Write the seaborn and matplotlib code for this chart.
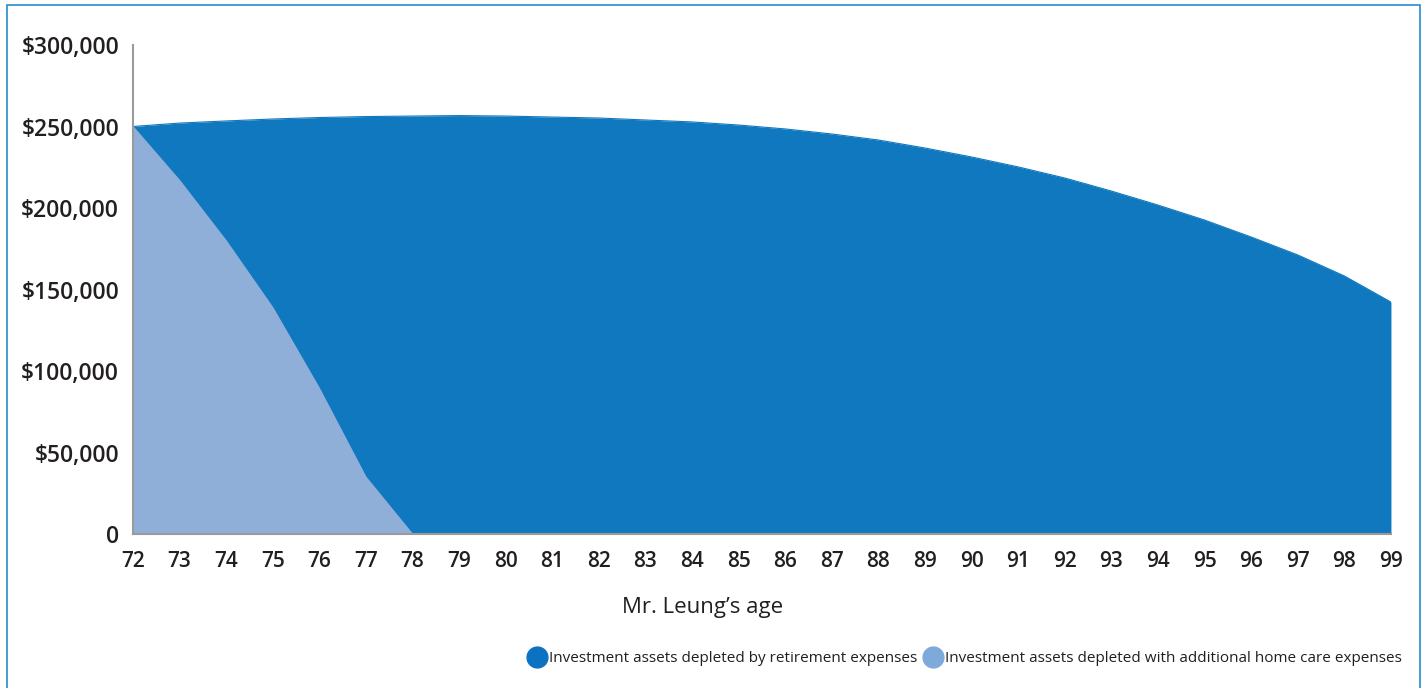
import numpy as np
import pandas as pd
import matplotlib.pyplot as plt
import matplotlib.patches as patches
from matplotlib.lines import Line2D
from matplotlib.ticker import FuncFormatter
import seaborn as sns

# ages on the x axis
ages = list(range(72, 100))

# investment assets with retirement expenses only
retirement = [250000, 252100, 253400, 254600, 255500, 256100, 256400, 256700,
              256400, 255800, 255200, 254000, 252800, 250900, 248500, 245400,
              241700, 236800, 231300, 225200, 218400, 210400, 201800, 192600,
              182200, 171200, 158300, 142300]

# investment assets with additional home care expenses
home_care = [250000, 217000, 180000, 139000, 89500, 35000, 0, 0,
             0, 0, 0, 0, 0, 0, 0, 0, 0, 0, 0, 0, 0, 0, 0, 0, 0, 0, 0, 0]

y_ticks = [0, 50000, 100000, 150000, 200000, 250000, 300000]

legend_labels = ['Investment assets depleted by retirement expenses',
                 'Investment assets depleted with additional home care expenses']

dark_blue = '#1078be'
light_blue = '#8fafd9'
legend_dark = '#0b72c2'
legend_light = '#7eaadb'

df = pd.DataFrame({'age': ages, 'retirement': retirement, 'home_care': home_care})

sns.set_theme(style='white')
plt.rcParams['font.family'] = ['Open Sans', 'DejaVu Sans']

fig = plt.figure(figsize=(14.25, 6.88), dpi=100)
ax = fig.add_axes([0.0933, 0.2238, 0.8828, 0.7108])

sns.lineplot(data=df, x='age', y='retirement', color=dark_blue, linewidth=0.8, ax=ax)
ax.fill_between(df['age'], 0, df['retirement'], color=dark_blue, linewidth=0)
sns.lineplot(data=df, x='age', y='home_care', color=light_blue, linewidth=0.8, ax=ax)
ax.fill_between(df['age'], 0, df['home_care'], color=light_blue, linewidth=0)

ax.set_xlim(72, 99)
ax.set_ylim(0, 300000)
ax.set_xticks(ages)
ax.set_yticks(y_ticks)
ax.yaxis.set_major_formatter(FuncFormatter(lambda v, p: '0' if v == 0 else f'${v:,.0f}'))
ax.tick_params(axis='both', length=0, colors='#231f20')
ax.tick_params(axis='y', pad=10, labelsize=16.5)
ax.tick_params(axis='x', pad=12, labelsize=15)
for lab in ax.get_xticklabels() + ax.get_yticklabels():
    lab.set_fontweight('semibold')
ax.set_xlabel('')
ax.set_ylabel('')

for s in ['top', 'right']:
    ax.spines[s].set_visible(False)
for s in ['left', 'bottom']:
    ax.spines[s].set_color('#9a9a9a')
    ax.spines[s].set_linewidth(1.5)
ax.set_axisbelow(False)

fig.text(703 / 1425, 1 - 608 / 688, 'Mr. Leung\u2019s age', ha='center', va='center',
         fontsize=16, fontweight='medium', color='#231f20')

handles = [Line2D([0], [0], marker='o', linestyle='', markersize=15, color=legend_dark),
           Line2D([0], [0], marker='o', linestyle='', markersize=15, color=legend_light)]
fig.legend(handles, legend_labels, loc='center right', bbox_to_anchor=(0.988, 1 - 659 / 688),
           ncol=2, frameon=False, fontsize=11, handletextpad=0.3, columnspacing=0.5,
           handlelength=1.0, labelcolor='#231f20', borderaxespad=0)

# thin blue border around the whole panel
border = patches.Rectangle((7 / 1425, -0.01), 1 - 12 / 1425, 1 - 5 / 688 + 0.01,
                           transform=fig.transFigure, fill=False,
                           edgecolor='#2a8ad0', linewidth=1.2)
fig.patches.append(border)

fig.savefig('out.png', dpi=100)
